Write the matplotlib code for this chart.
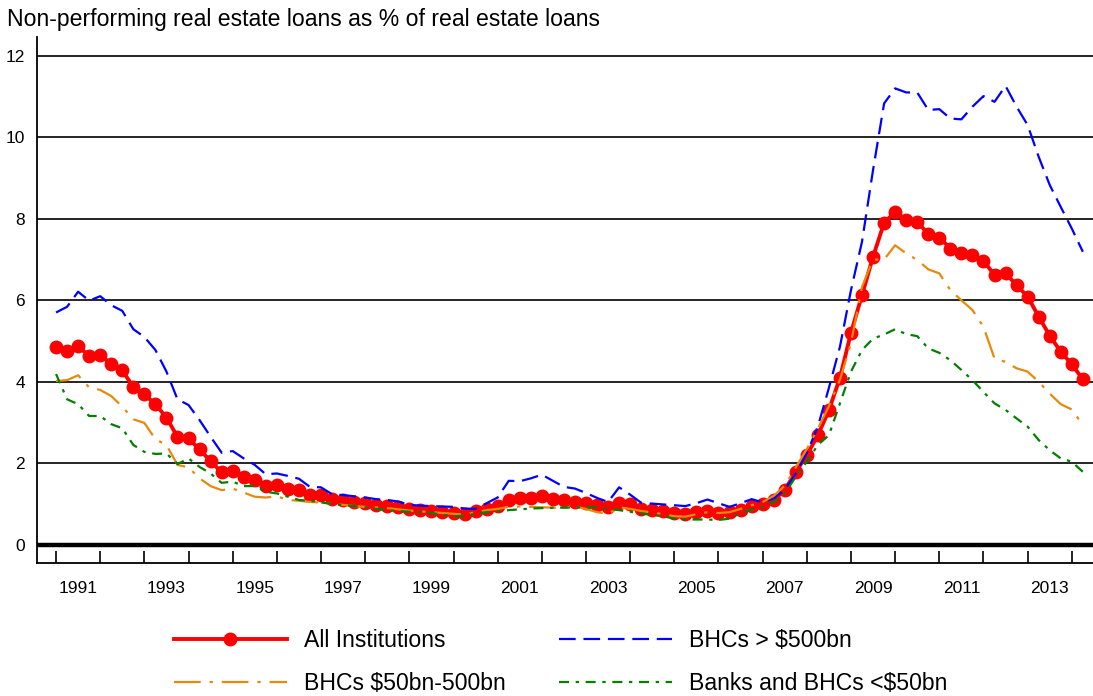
import matplotlib
matplotlib.use('Agg')
import matplotlib.pyplot as plt
import numpy as np

plt.rcParams['font.family'] = ['Liberation Sans', 'DejaVu Sans']

START_YEAR = 1991  # quarterly data, 1991Q1 - 2014Q2

all_inst = [4.86, 4.75, 4.88, 4.63, 4.65, 4.44, 4.28, 3.87, 3.69, 3.45,
            3.12, 2.65, 2.61, 2.34, 2.05, 1.78, 1.80, 1.67, 1.59, 1.44,
            1.47, 1.37, 1.34, 1.23, 1.22, 1.12, 1.10, 1.05, 1.02, 0.98,
            0.96, 0.93, 0.87, 0.85, 0.82, 0.81, 0.79, 0.76, 0.82, 0.88,
            0.94, 1.09, 1.15, 1.16, 1.20, 1.12, 1.09, 1.06, 1.03, 0.98,
            0.92, 1.03, 0.99, 0.89, 0.85, 0.83, 0.78, 0.75, 0.80, 0.84,
            0.79, 0.80, 0.86, 0.95, 1.01, 1.10, 1.34, 1.79, 2.20, 2.69,
            3.30, 4.10, 5.20, 6.13, 7.07, 7.90, 8.17, 7.98, 7.93, 7.62,
            7.54, 7.27, 7.15, 7.11, 6.97, 6.62, 6.66, 6.37, 6.09, 5.60,
            5.13, 4.74, 4.43, 4.06]

bhc_large = [5.70, 5.84, 6.21, 5.99, 6.10, 5.88, 5.74, 5.29, 5.10, 4.78,
             4.25, 3.57, 3.43, 3.06, 2.65, 2.26, 2.30, 2.12, 1.96, 1.73,
             1.75, 1.69, 1.62, 1.42, 1.41, 1.24, 1.22, 1.19, 1.16, 1.12,
             1.10, 1.06, 0.98, 0.96, 0.95, 0.94, 0.93, 0.89, 0.88, 1.02,
             1.16, 1.57, 1.56, 1.63, 1.72, 1.57, 1.42, 1.38, 1.27, 1.15,
             1.05, 1.41, 1.23, 1.03, 1.01, 0.99, 0.97, 0.95, 1.02, 1.11,
             1.02, 0.93, 1.02, 1.12, 1.04, 1.14, 1.35, 1.75, 2.25, 2.90,
             3.85, 4.86, 6.25, 7.44, 9.20, 10.83, 11.20, 11.10, 11.10, 10.67,
             10.69, 10.46, 10.44, 10.75, 11.01, 10.87, 11.26, 10.75, 10.30, 9.52,
             8.83, 8.29, 7.76, 7.19]

bhc_mid = [4.02, 4.04, 4.16, 3.86, 3.80, 3.65, 3.39, 3.08, 2.99, 2.59,
           2.45, 1.96, 1.90, 1.63, 1.44, 1.34, 1.38, 1.28, 1.18, 1.16,
           1.19, 1.10, 1.08, 1.05, 1.04, 1.00, 0.98, 0.95, 0.93, 0.92,
           0.90, 0.87, 0.84, 0.82, 0.80, 0.78, 0.76, 0.74, 0.80, 0.85,
           0.88, 0.93, 0.94, 0.93, 0.92, 0.91, 0.90, 0.94, 0.88, 0.80,
           0.76, 0.92, 0.88, 0.83, 0.79, 0.75, 0.70, 0.69, 0.75, 0.80,
           0.78, 0.80, 0.88, 0.97, 1.05, 1.20, 1.45, 1.90, 2.35, 2.85,
           3.40, 4.05, 4.95, 6.33, 7.00, 7.00, 7.35, 7.15, 6.99, 6.76,
           6.66, 6.25, 6.00, 5.76, 5.35, 4.57, 4.49, 4.33, 4.25, 4.00,
           3.71, 3.45, 3.32, 2.94]

small_banks = [4.19, 3.57, 3.45, 3.16, 3.16, 2.96, 2.86, 2.45, 2.28, 2.23,
               2.24, 1.98, 2.12, 1.91, 1.75, 1.52, 1.55, 1.44, 1.44, 1.30,
               1.26, 1.18, 1.10, 1.08, 1.04, 1.00, 0.97, 0.95, 0.92, 0.88,
               0.85, 0.83, 0.81, 0.80, 0.78, 0.74, 0.70, 0.71, 0.76, 0.80,
               0.82, 0.85, 0.87, 0.89, 0.90, 0.91, 0.91, 0.92, 0.92, 0.92,
               0.88, 0.85, 0.81, 0.77, 0.73, 0.70, 0.64, 0.62, 0.62, 0.62,
               0.61, 0.64, 0.78, 0.86, 0.92, 1.05, 1.26, 1.67, 2.04, 2.45,
               2.69, 3.47, 4.25, 4.78, 5.06, 5.16, 5.29, 5.17, 5.12, 4.82,
               4.71, 4.53, 4.29, 4.04, 3.75, 3.47, 3.31, 3.10, 2.90, 2.57,
               2.32, 2.12, 2.04, 1.79]

labels = ['All Institutions', 'BHCs > $500bn', 'BHCs $50bn-500bn',
          'Banks and BHCs <$50bn']

years = START_YEAR + np.arange(len(all_inst)) / 4.0

fig = plt.figure(figsize=(10.93, 6.96), dpi=100)
ax = fig.add_axes([0.0343, 0.1915, 0.9657, 0.7553])

# grid + zero line
for yv in range(2, 13, 2):
    ax.axhline(yv, color='black', lw=1.2, zorder=1)
ax.axhline(0, color='black', lw=3.2, zorder=1)

l_all, = ax.plot(years, all_inst, color='#ff0000', lw=2.8, marker='o',
                 markersize=9, zorder=3)
l_big, = ax.plot(years, bhc_large, color='#0000ff', lw=1.6,
                 dashes=(7.5, 3.5), zorder=4)
l_mid, = ax.plot(years, bhc_mid, color='#e8890c', lw=1.6,
                 dashes=(12, 4, 1.5, 4), zorder=4)
l_small, = ax.plot(years, small_banks, color='#008000', lw=1.6,
                   dashes=(4.5, 3, 1.5, 3), zorder=4)

ax.set_xlim(1990.58, 2014.48)
ax.set_ylim(-0.44, 12.46)
ax.set_yticks(range(0, 13, 2))
ax.tick_params(axis='y', length=0, pad=9, labelsize=12.5)

# year ticks on the axis, labels centred between them
ax.set_xticks(np.arange(1991, 2015))
ax.set_xticklabels([])
ax.set_xticks(np.arange(1991, 2014, 2) + 0.5, minor=True)
ax.set_xticklabels([str(y) for y in range(1991, 2014, 2)], minor=True)
ax.tick_params(axis='x', which='major', direction='in', length=9,
               width=1.2, color='black')
ax.tick_params(axis='x', which='minor', length=0, pad=13, labelsize=12.5)

for s in ['top', 'right']:
    ax.spines[s].set_visible(False)
for s in ['left', 'bottom']:
    ax.spines[s].set_linewidth(1.3)
    ax.spines[s].set_color('black')

fig.text(0.0064, 0.972, 'Non-performing real estate loans as % of real estate loans',
         fontsize=16.6, va='center', ha='left')

fig.legend([l_all, l_mid, l_big, l_small],
           [labels[0], labels[2], labels[1], labels[3]],
           loc='center', bbox_to_anchor=(0.513, 0.049), ncol=2,
           frameon=False, fontsize=16.6, handlelength=4.9, handletextpad=0.73,
           columnspacing=2.35, labelspacing=0.85)

fig.savefig('out.png', dpi=100)
